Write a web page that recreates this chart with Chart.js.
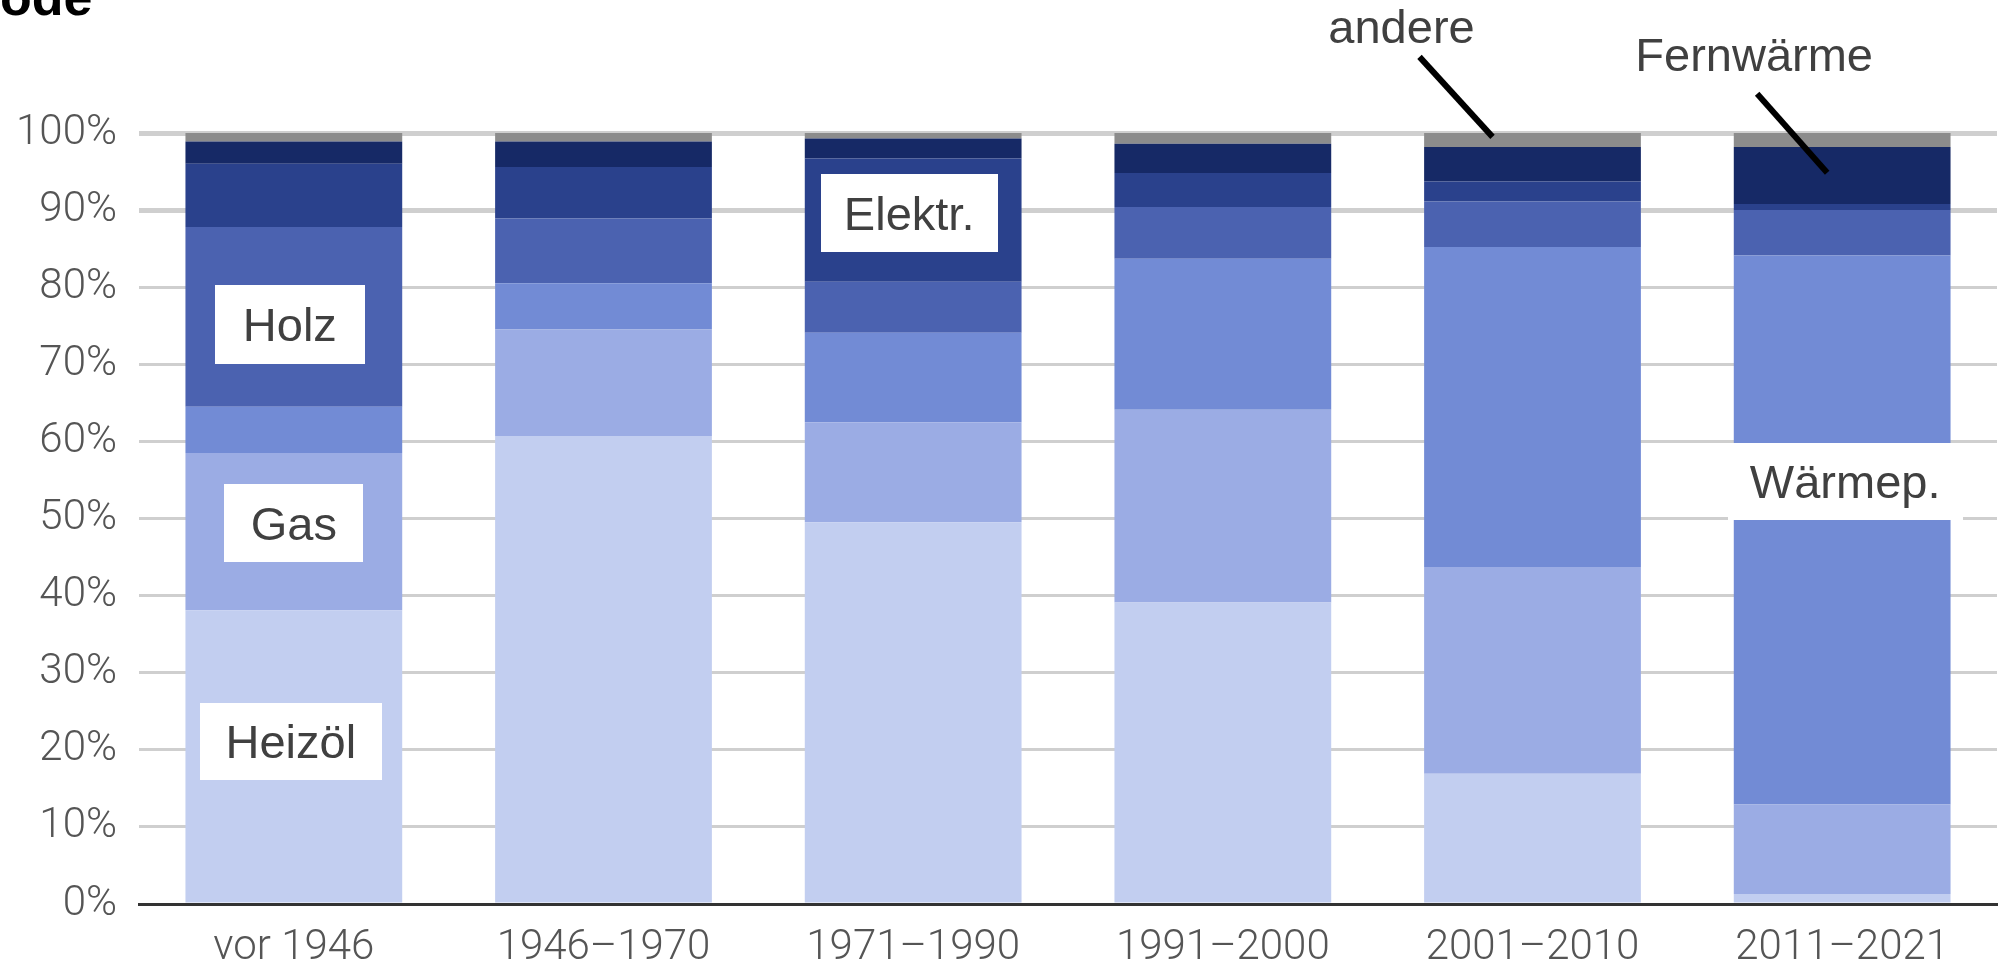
<!DOCTYPE html>
<html><head><meta charset="utf-8">
<script src="https://cdn.jsdelivr.net/npm/chart.js@4.4.0/dist/chart.umd.min.js"></script>
<style>html,body{margin:0;padding:0;background:#fff;overflow:hidden}#wrap{width:2011px;height:970px;position:relative}</style>
</head><body><div id="wrap"><canvas id="c" width="2011" height="970"></canvas></div>
<script>
const categories = ['vor 1946', '1946–1970', '1971–1990', '1991–2000', '2001–2010', '2011–2021'];
const heizoel  = [38.1, 60.7, 49.5, 39.1, 16.9, 1.3];
const gas      = [20.4, 13.8, 13.0, 25.0, 26.8, 11.6];
const waermep  = [6.0, 6.0, 11.6, 19.6, 41.5, 71.2];
const holz     = [23.3, 8.4, 6.6, 6.7, 5.9, 5.9];
const elektr   = [8.2, 6.7, 16.0, 4.4, 2.6, 0.8];
const fernw    = [2.9, 3.3, 2.6, 3.8, 4.5, 7.4];
const andere   = [1.1, 1.1, 0.7, 1.4, 1.8, 1.8];
const seriesNames = ['Heizöl', 'Gas', 'Wärmep.', 'Holz', 'Elektr.', 'Fernwärme', 'andere'];
const yTicks = [0, 10, 20, 30, 40, 50, 60, 70, 80, 90, 100];
const titleText = 'ode';

// in-bar labels: category index, value at label centre
const boxLabels = [
  { text: 'Holz',    cat: 0, value: 75.2, w: 150, h: 79, dx: -4 },
  { text: 'Gas',     cat: 0, value: 49.4, w: 139, h: 78, dx: 0 },
  { text: 'Heizöl',  cat: 0, value: 21.1, w: 182, h: 77, dx: -3 },
  { text: 'Elektr.', cat: 2, value: 89.6, w: 177, h: 78, dx: -4 },
  { text: 'Wärmep.', cat: 5, value: 54.8, w: 235, h: 77, dx: 3 }
];
// leader labels: points to (cat, value)
const leaderLabels = [
  { text: 'andere',    cat: 4, value: 99.5,  dx: -40, lx: -73, ly: -80, tx: -18, ty: -14 },
  { text: 'Fernwärme', cat: 5, value: 94.85, dx: -15, lx: -70, ly: -79, tx: -3,  ty: -23 }
];

const colors = ['#c2cef0', '#9bace4', '#728bd5', '#4b62b0', '#2a418c', '#162966', '#8c8c8c'];
const values = [heizoel, gas, waermep, holz, elektr, fernw, andere];

const annotPlugin = {
  id: 'annot',
  afterDatasetsDraw(chart) {
    const ctx = chart.ctx, xs = chart.scales.x, ys = chart.scales.y;
    ctx.save();
    // title remnant
    ctx.fillStyle = '#000';
    ctx.font = 'bold 52px "Liberation Sans", Arial, sans-serif';
    ctx.textAlign = 'left';
    ctx.textBaseline = 'alphabetic';
    ctx.fillText(titleText, 0, 15);

    ctx.font = '47px "Liberation Sans", Arial, sans-serif';
    boxLabels.forEach(b => {
      const cx = xs.getPixelForValue(b.cat) + b.dx;
      const cy = ys.getPixelForValue(b.value);
      ctx.fillStyle = '#fff';
      ctx.fillRect(Math.round(cx - b.w / 2), Math.round(cy - b.h / 2), b.w, b.h);
      ctx.fillStyle = '#404040';
      ctx.textAlign = 'center';
      ctx.textBaseline = 'alphabetic';
      ctx.fillText(b.text, cx, cy + 17);
    });
    leaderLabels.forEach(l => {
      const ex = xs.getPixelForValue(l.cat) + l.dx;
      const ey = ys.getPixelForValue(l.value);
      const sx = ex + l.lx, sy = ey + l.ly;
      ctx.strokeStyle = '#000';
      ctx.lineWidth = 6;
      ctx.beginPath();
      ctx.moveTo(sx, sy);
      ctx.lineTo(ex, ey);
      ctx.stroke();
      ctx.fillStyle = '#404040';
      ctx.textAlign = 'center';
      ctx.textBaseline = 'alphabetic';
      ctx.fillText(l.text, sx + l.tx, sy + l.ty);
    });
    ctx.restore();
  }
};

const tickFont = { family: 'Roboto', size: 42, weight: 300 };

new Chart(document.getElementById('c'), {
  type: 'bar',
  data: {
    labels: categories,
    datasets: seriesNames.map((n, i) => ({
      label: n,
      data: values[i],
      backgroundColor: colors[i],
      borderWidth: 0,
      barPercentage: 0.70,
      categoryPercentage: 1.0
    }))
  },
  options: {
    responsive: false,
    animation: false,
    devicePixelRatio: 1,
    layout: { padding: { top: 133, right: 14, bottom: 0, left: 0 } },
    plugins: { legend: { display: false }, tooltip: { enabled: false }, title: { display: false } },
    scales: {
      x: {
        stacked: true,
        grid: { display: false, drawTicks: false },
        border: { display: true, color: '#333333', width: 3 },
        ticks: { font: tickFont, color: '#555555', padding: 19, maxRotation: 0, autoSkip: false },
        afterFit(s) { s.height = 66; }
      },
      y: {
        stacked: true,
        min: 0, max: 100,
        afterBuildTicks(s) { s.ticks = yTicks.map(v => ({ value: v })); },
        ticks: { font: tickFont, color: '#555555', padding: 22, callback: v => v + '%' },
        grid: { color: '#cfcfcf', lineWidth: c => (c.tick && c.tick.value >= 90 ? 5 : 3), drawTicks: false },
        border: { display: false },
        afterFit(s) { s.width = 139; }
      }
    }
  },
  plugins: [annotPlugin]
});
</script>
</body></html>
